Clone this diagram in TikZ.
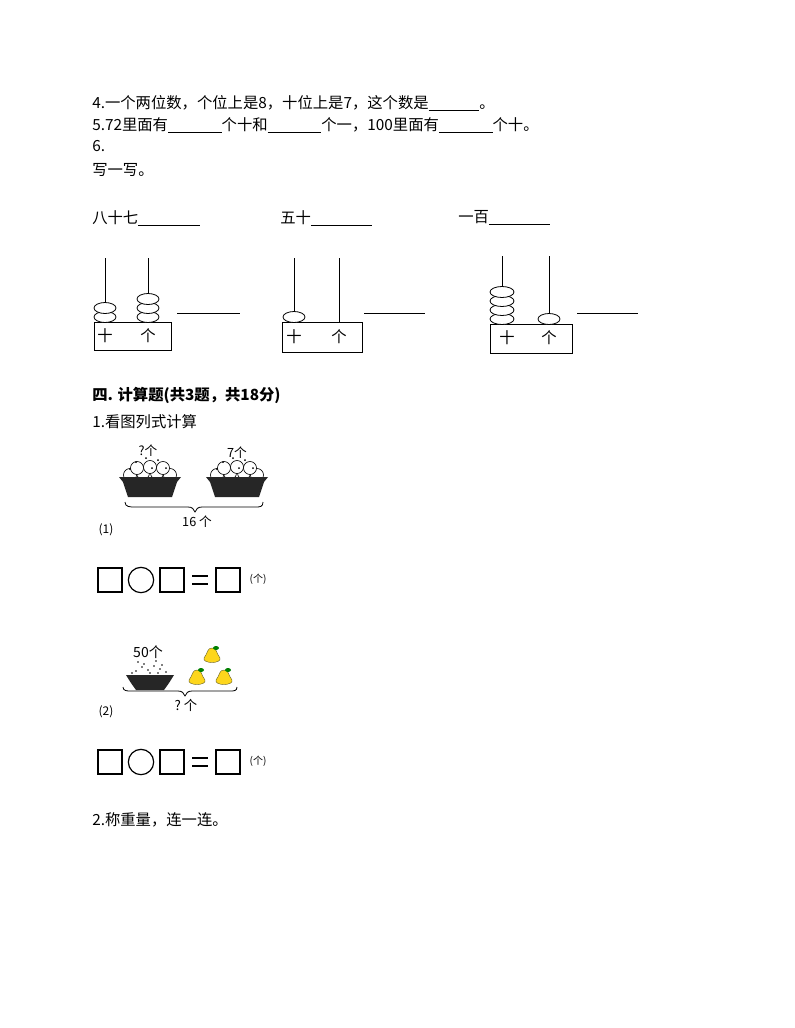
\documentclass[tikz,border=0pt]{standalone}
\usepackage{fontspec}
\setmainfont{Noto Sans CJK SC}
\newcommand{\blank}[1]{\underline{\hspace{#1}}}
\begin{document}
\begin{tikzpicture}[x=0.75pt,y=-0.75pt,
  txt/.style={anchor=west,inner sep=0pt,font=\fontsize{11.5}{13}\selectfont},
  bead/.style={draw,fill=white,line width=0.6pt},
  abox/.style={draw,line width=0.7pt},
  rod/.style={line width=0.7pt},
  eqbox/.style={draw,line width=0.9pt,minimum width=18pt,minimum height=18pt,inner sep=0pt},
  eqcirc/.style={draw,circle,line width=0.9pt,minimum size=19pt,inner sep=0pt},
  small/.style={font=\fontsize{8}{9}\selectfont,inner sep=0pt}]
\useasboundingbox (0,0) rectangle (794,1028);
\node[txt] (l4) at (92,103) {4.一个两位数，个位上是8，十位上是7，这个数是\blank{3.3em}。};
\node[txt] (l5) at (92,125) {5.72里面有\blank{3.5em}个十和\blank{3.5em}个一，100里面有\blank{3.5em}个十。};
\node[txt] (l6) at (92,146) {6.};
\node[txt] (l7) at (92,170) {写一写。};
\node[txt] (w1) at (92,218) {八十七\blank{4em}};
\node[txt] (w2) at (280,218) {五十\blank{4em}};
\node[txt] (w3) at (458,218) {一百\blank{4em}};
% abacus 1
\draw[rod] (105,258) -- (105,322); \draw[rod] (148,258) -- (148,322);
\draw[abox] (94,322) rectangle (171,350);
\foreach \y in {317,308} \draw[bead] (105,\y) ellipse (11 and 5.5);
\foreach \y in {317,308,299} \draw[bead] (148,\y) ellipse (11 and 5.5);
\node[txt,anchor=center] (s1) at (105,336) {十};
\node[txt,anchor=center] (g1) at (148,336) {个};
\draw[rod] (177,313) -- (240,313);
% abacus 2
\draw[rod] (294,258) -- (294,322); \draw[rod] (339,258) -- (339,322);
\draw[abox] (282,322) rectangle (362,352);
\draw[bead] (294,317) ellipse (11 and 5.5);
\node[txt,anchor=center] (s2) at (294,337) {十};
\node[txt,anchor=center] (g2) at (339,337) {个};
\draw[rod] (364,313) -- (425,313);
% abacus 3
\draw[rod] (502,256) -- (502,324); \draw[rod] (549,256) -- (549,324);
\draw[abox] (490,324) rectangle (572,353);
\foreach \y in {319,310,301,292} \draw[bead] (502,\y) ellipse (12 and 5.5);
\draw[bead] (549,319) ellipse (11 and 5.5);
\node[txt,anchor=center] (s3) at (507,338) {十};
\node[txt,anchor=center] (g3) at (549,338) {个};
\draw[rod] (577,313) -- (638,313);
% section
\node[txt,font=\fontsize{11.5}{13}\selectfont\bfseries] (sec) at (92,395) {四. 计算题(共3题，共18分)};
\node[txt] (q1) at (92,422) {1.看图列式计算};
% baskets picture 1
\foreach \cx/\nm in {150/b1,237/b2}{
  \foreach \dx/\dy in {-20/-4,-7/-6,7/-6,20/-4,-13/-11,0/-12,13/-11}
    \draw[fill=white,line width=0.5pt] (\cx+\dx,479+\dy) circle (6.5);
  \foreach \dx/\dy in {-14/-17,-4/-21,8/-19,16/-11,-20/-10,2/-11}
    \fill (\cx+\dx,479+\dy) circle (1);
  \fill[black!85] (\cx-31,477) -- (\cx+31,477) -- (\cx+27,482) -- (\cx+22,497) -- (\cx-22,497) -- (\cx-27,482) -- cycle;
  \coordinate (\nm) at (\cx,485);
}
\node[small,font=\fontsize{9.5}{10}\selectfont] (qa) at (148,451) {?个};
\node[small,font=\fontsize{9.5}{10}\selectfont] (qb) at (237,453) {7个};
\draw[line width=0.6pt] (125,502) .. controls (125,507) and (130,507) .. (135,507) -- (188,507) .. controls (192,507) and (194,509) .. (195,512) .. controls (196,509) and (198,507) .. (202,507) -- (255,507) .. controls (260,507) and (263,507) .. (263,502);
\node[small,font=\fontsize{9.5}{10}\selectfont] (t16) at (197,522) {16 个};
\node[small,font=\fontsize{9}{10}\selectfont] (p1) at (106,530) {(1)};
% equations
\foreach \y/\r in {580/a,762/b}{
  \node[eqbox] (\r1) at (110,\y) {};
  \node[eqcirc] (\r2) at (141,\y) {};
  \node[eqbox] (\r3) at (172,\y) {};
  \draw[line width=1pt] (192,\y-4) -- (208,\y-4) (192,\y+4) -- (208,\y+4);
  \node[eqbox] (\r5) at (228,\y) {};
  \node[small,font=\fontsize{7.5}{8}\selectfont] (\r6) at (258,\y-1) {(个)};
}
% picture 2
\node[small,font=\fontsize{10.5}{11}\selectfont] (q50) at (148,652) {50个};
\foreach \dx/\dy in {-14/-3,-8/-7,-2/-4,4/-8,10/-5,16/-2,-18/-1,0/-1,8/-1,-6/-10,12/-9,-12/-12,6/-13}
  \fill (150+\dx,674+\dy) circle (0.9);
\fill[black!85] (126,675) -- (174,675) -- (169,683) -- (164,690) -- (136,690) -- (131,683) -- cycle;
\foreach \px/\py/\nm in {212/656/pa,197/678/pb,224/678/pc}{
  \fill[yellow!70!orange!90,draw=olive!60!black,line width=0.3pt] (\px,\py-8) .. controls (\px+5,\py-8) and (\px+4,\py-3) .. (\px+8,\py+2) .. controls (\px+10,\py+8) and (\px-10,\py+8) .. (\px-8,\py+2) .. controls (\px-4,\py-3) and (\px-5,\py-8) .. (\px,\py-8);
  \fill[green!50!black] (\px+4,\py-8) ellipse (3 and 2);
  \coordinate (\nm) at (\px,\py);
}
\draw[line width=0.6pt] (123,687) .. controls (123,691) and (127,691) .. (131,691) -- (178,691) .. controls (182,691) and (184,693) .. (185,696) .. controls (186,693) and (188,691) .. (192,691) -- (230,691) .. controls (234,691) and (237,691) .. (237,687);
\node[small,font=\fontsize{10}{11}\selectfont] (qq) at (186,705) {?\ 个};
\node[small,font=\fontsize{9}{10}\selectfont] (p2) at (106,712) {(2)};
\node[txt] (q2) at (92,820) {2.称重量，连一连。};
\end{tikzpicture}
\end{document}
